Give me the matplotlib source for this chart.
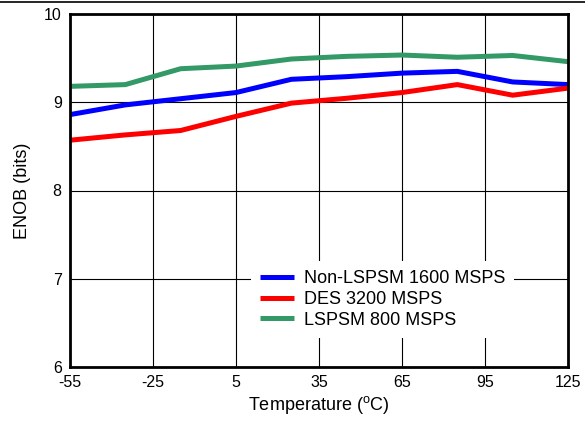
import matplotlib
matplotlib.use("Agg")
import matplotlib.pyplot as plt
from matplotlib.lines import Line2D

plt.rcParams['font.family'] = ['Liberation Sans', 'DejaVu Sans']
plt.rcParams['mathtext.fontset'] = 'custom'
plt.rcParams['mathtext.rm'] = 'Liberation Sans'
plt.rcParams['axes.unicode_minus'] = False

# Data
temps = [-55, -35, -15, 5, 25, 45, 65, 85, 105, 125]
non_lspsm_1600 = [8.86, 8.97, 9.04, 9.11, 9.26, 9.29, 9.33, 9.35, 9.23, 9.20]
des_3200 = [8.57, 8.63, 8.68, 8.84, 8.99, 9.045, 9.11, 9.20, 9.08, 9.16]
lspsm_800 = [9.18, 9.20, 9.38, 9.41, 9.49, 9.52, 9.535, 9.51, 9.53, 9.46]

xticks = [-55, -25, 5, 35, 65, 95, 125]
yticks = [6, 7, 8, 9, 10]

fig = plt.figure(figsize=(5.85, 4.24), dpi=100)
ax = fig.add_axes([70 / 585, 1 - 367 / 424, 498 / 585, 353 / 424])

ax.plot(temps, non_lspsm_1600, color='#0000ff', lw=3.6, label='Non-LSPSM 1600 MSPS', solid_capstyle='butt')
ax.plot(temps, des_3200, color='#ff0000', lw=3.6, label='DES 3200 MSPS', solid_capstyle='butt')
ax.plot(temps, lspsm_800, color='#339966', lw=3.6, label='LSPSM 800 MSPS', solid_capstyle='butt')

ax.set_xlim(-55, 125)
ax.set_ylim(6, 10)
ax.set_xticks(xticks)
ax.set_yticks(yticks)
ax.tick_params(length=0, labelsize=11.5, pad=6)
ax.grid(True, color='black', lw=0.8)
ax.set_axisbelow(True)
for s in ax.spines.values():
    s.set_linewidth(2)

ax.set_xlabel(r'Temperature ($\mathregular{^{o}}$C)', fontsize=13, labelpad=3)
ax.set_ylabel('ENOB (bits)', fontsize=13, labelpad=9)

leg = ax.legend(loc='center', bbox_to_anchor=(0.6275, 0.191), frameon=True,
                fontsize=13, handlelength=1.9, handletextpad=0.55,
                borderpad=0.5, borderaxespad=0, labelspacing=0.2)
leg.get_frame().set_edgecolor('none')
leg.get_frame().set_facecolor('white')
leg.get_frame().set_alpha(1)
leg.get_frame().set_boxstyle('square', pad=0)

fig.add_artist(Line2D([0, 1], [1 - 1.5 / 424, 1 - 1.5 / 424], color='black', lw=1.2))

fig.savefig('out.png', dpi=100)
